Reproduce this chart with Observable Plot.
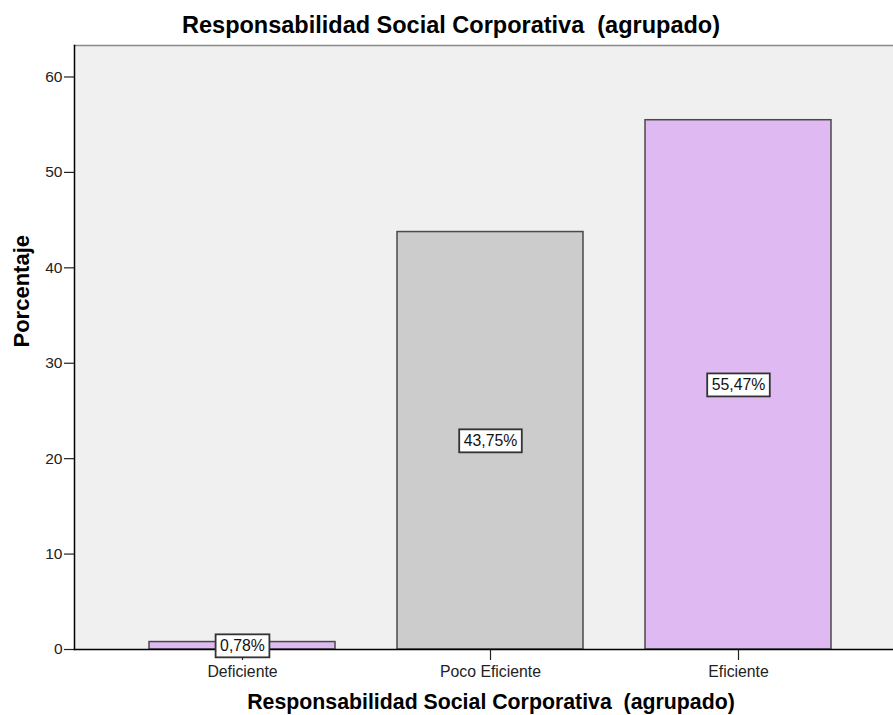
<!DOCTYPE html>
<html>
<head>
<meta charset="utf-8">
<script src="https://cdn.jsdelivr.net/npm/d3@7"></script>
<script src="https://cdn.jsdelivr.net/npm/@observablehq/plot@0.6"></script>
<style>
  html, body { margin: 0; padding: 0; background: #ffffff; }
  #chart svg { display: block; font-family: "Liberation Sans", Arial, sans-serif; }
</style>
</head>
<body>
<div id="chart"></div>
<script>
// Frequencies of the grouped CSR variable
const categories = ["Deficiente", "Poco Eficiente", "Eficiente"];
const percentages = [0.78, 43.75, 55.47];
const barColors = ["#dfb9f2", "#cccccc", "#dfb9f2"];
const yTicks = [0, 10, 20, 30, 40, 50, 60];
const chartTitle = "Responsabilidad Social Corporativa  (agrupado)";
const xTitle = "Responsabilidad Social Corporativa  (agrupado)";
const yTitle = "Porcentaje";

const rows = categories.map((c, i) => ({category: c, value: percentages[i], color: barColors[i]}));
const pct = v => v.toFixed(2).replace(".", ",") + "%";

const chart = Plot.plot({
  width: 893,
  height: 715,
  marginTop: 45,
  marginBottom: 66,
  marginLeft: 74,
  marginRight: 0,
  style: {fontFamily: "'Liberation Sans', Arial, sans-serif", background: "#ffffff"},
  x: {domain: categories, range: [74, 905], paddingInner: 0.25, paddingOuter: 0.294, axis: null},
  y: {domain: [0, 63.3], axis: null},
  marks: [
    Plot.frame({fill: "#f0f0f0", stroke: null}),
    Plot.frame({anchor: "top", stroke: "#8a8a8a", strokeWidth: 1.5}),
    Plot.barY(rows, {x: "category", y: "value", fill: "color", stroke: "#4a4a4a", strokeWidth: 1.5}),
    Plot.axisY({ticks: yTicks, tickSize: 10, tickPadding: 2, fontSize: 15.5, color: "#222", label: null, strokeWidth: 1.2}),
    Plot.axisX({tickSize: 11, tickPadding: 5, fontSize: 15.8, color: "#222", label: null, strokeWidth: 1.2}),
    Plot.frame({anchor: "left", stroke: "#000", strokeWidth: 1.5}),
    Plot.frame({anchor: "bottom", stroke: "#000", strokeWidth: 1.5}),
    Plot.text(rows, {x: "category", y: d => d.value / 2, text: d => pct(d.value), fontSize: 15.8, fill: "#111"}),
    Plot.text([chartTitle], {frameAnchor: "top", lineAnchor: "bottom", dx: -33, dy: -13, fontSize: 23.5, fontWeight: "bold", fill: "#000"}),
    Plot.text([xTitle], {frameAnchor: "bottom", lineAnchor: "bottom", dx: 7, dy: 59, fontSize: 21.3, fontWeight: "bold", fill: "#000"}),
    Plot.text([yTitle], {frameAnchor: "left", rotate: -90, dx: -53, fontSize: 22, fontWeight: "bold", fill: "#000"})
  ]
});

document.getElementById("chart").appendChild(chart);

// White framed boxes behind the value labels
const labelTexts = new Set(rows.map(d => pct(d.value)));
d3.select(chart).selectAll("text")
  .filter(function () { return labelTexts.has(this.textContent); })
  .each(function () {
    const b = this.getBBox();
    const box = document.createElementNS("http://www.w3.org/2000/svg", "rect");
    box.setAttribute("x", b.x - 4.5);
    box.setAttribute("y", b.y - 2.5);
    box.setAttribute("width", b.width + 9);
    box.setAttribute("height", b.height + 6);
    box.setAttribute("fill", "#ffffff");
    box.setAttribute("stroke", "#333333");
    box.setAttribute("stroke-width", 1.8);
    const t = this.getAttribute("transform");
    if (t) box.setAttribute("transform", t);
    this.parentNode.insertBefore(box, this);
  });
</script>
</body>
</html>
